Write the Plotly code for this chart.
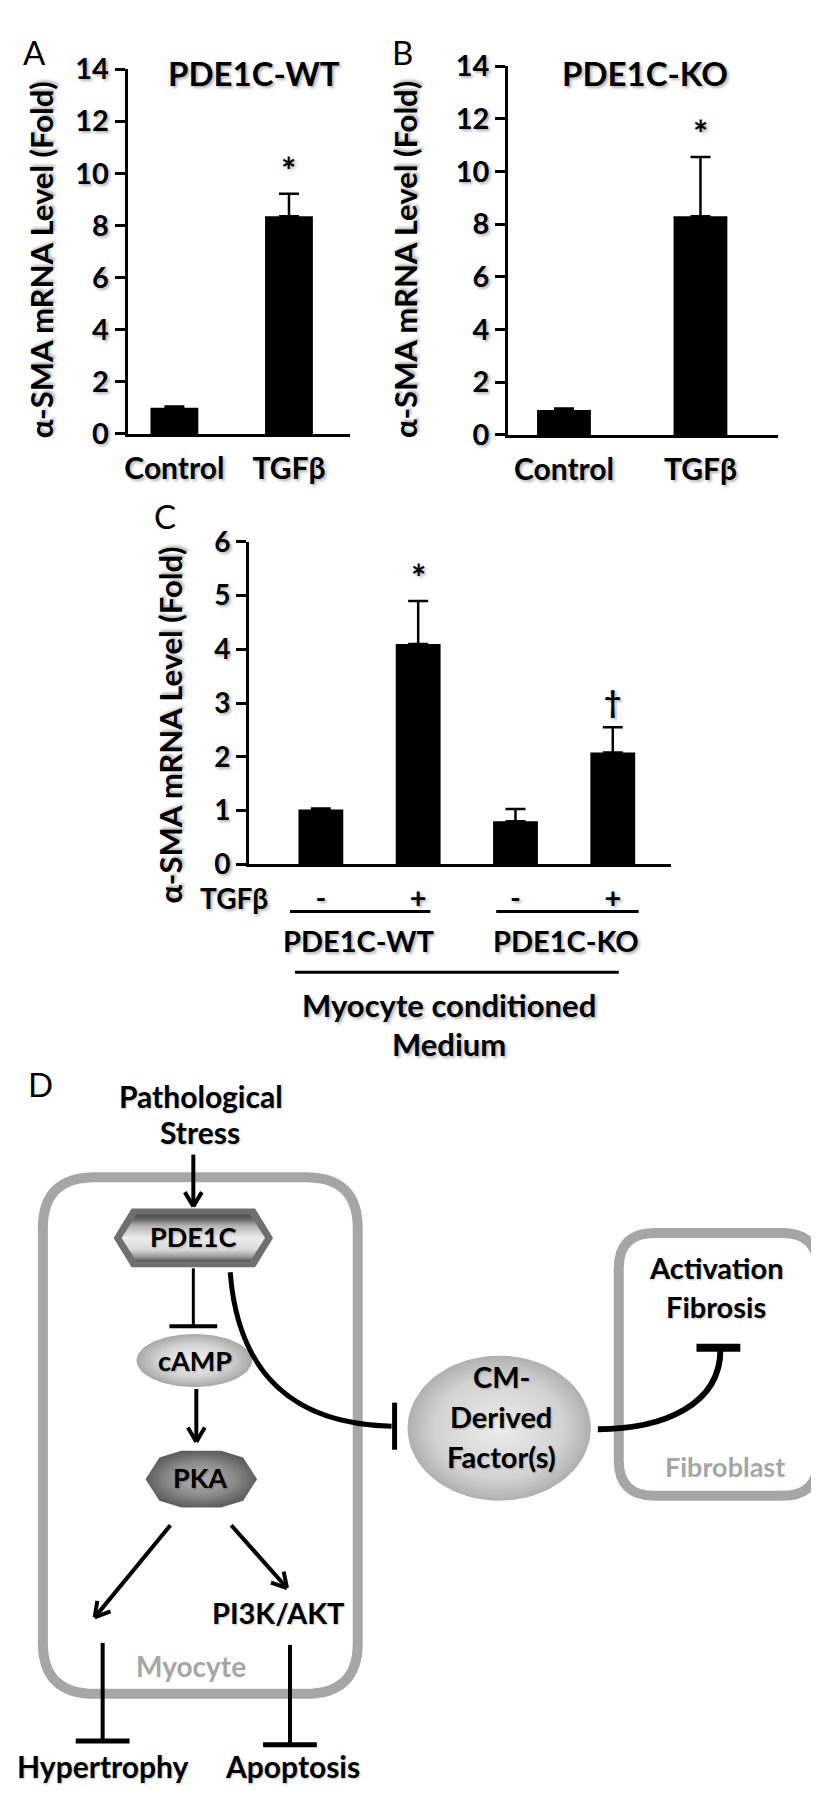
import numpy as np
import plotly.graph_objects as go

W, H = 819, 1796
FONT = "Lato"

# ---------------- data ----------------
a_categories = ["Control", "TGFβ"]
a_values = [1.0, 8.35]
a_errors = [0.05, 0.87]
a_marks = ["", "*"]

b_categories = ["Control", "TGFβ"]
b_values = [0.95, 8.3]
b_errors = [0.05, 2.25]
b_marks = ["", "*"]

c_tgfb = ["-", "+", "-", "+"]
c_values = [1.02, 4.1, 0.8, 2.08]
c_errors = [0.02, 0.8, 0.23, 0.47]
c_marks = ["", "*", "", "†"]

ab_yticks = [0, 2, 4, 6, 8, 10, 12, 14]
c_yticks = [0, 1, 2, 3, 4, 5, 6]
y_title = "α-SMA mRNA Level (Fold)"

# ---------------- layout helpers ----------------
SHADOW = "2px 2px 3px rgba(0,0,0,0.30)"


def fnt(size, color="black", weight="bold", shadow=SHADOW):
    return dict(family=FONT, size=size, color=color, weight=weight, shadow=shadow)


def cat_axis(px_left, px_right, c_first, c_last, n):
    upp = (n - 1) / (c_last - c_first)
    r0 = -(c_first - px_left) * upp
    r1 = r0 + (px_right - px_left) * upp
    return [r0, r1], upp


panels = [
    dict(name="A", cats=a_categories, vals=a_values, errs=a_errors, marks=a_marks,
         xl=117, xr=340, c0=164, c1=279, yt=43, yb=415, yr=[0, 14], yticks=ab_yticks, barpx=48),
    dict(name="B", cats=b_categories, vals=b_values, errs=b_errors, marks=b_marks,
         xl=499, xr=770, c0=555, c1=692, yt=40, yb=416, yr=[0, 14], yticks=ab_yticks, barpx=54),
    dict(name="C", cats=c_tgfb, vals=c_values, errs=c_errors, marks=c_marks,
         xl=239, xr=662, c0=311, c1=604, yt=525, yb=854, yr=[0, 6], yticks=c_yticks, barpx=45),
]

fig = go.Figure()
layout = dict(width=W, height=H, margin=dict(l=0, r=0, t=0, b=0, pad=0),
              paper_bgcolor="white", plot_bgcolor="rgba(0,0,0,0)", showlegend=False)
annotations = []
shapes = []

for k, p in enumerate(panels, start=1):
    n = len(p["cats"])
    xr, upp = cat_axis(p["xl"], p["xr"], p["c0"], p["c1"], n)
    idx = list(range(n))
    xa = "x" if k == 1 else f"x{k}"
    ya = "y" if k == 1 else f"y{k}"
    fig.add_trace(go.Bar(
        x=idx, y=p["vals"], width=p["barpx"] * upp, xaxis=xa, yaxis=ya,
        marker=dict(color="black", line=dict(width=0)),
        error_y=dict(type="data", array=p["errs"], arrayminus=[0] * n, symmetric=False,
                     color="black", thickness=2.5, width=10),
        hoverinfo="skip"))
    layout[f"xaxis{'' if k == 1 else k}"] = dict(
        domain=[p["xl"] / W, p["xr"] / W], range=xr, anchor=ya,
        showline=True, linewidth=3, linecolor="black", ticks="",
        tickmode="array", tickvals=idx, ticktext=p["cats"], tickfont=fnt(30 if k < 3 else 29),
        ticklabelstandoff=6, showgrid=False, zeroline=False, fixedrange=True)
    layout[f"yaxis{'' if k == 1 else k}"] = dict(
        domain=[1 - p["yb"] / H, 1 - p["yt"] / H], range=p["yr"], anchor=xa,
        showline=True, linewidth=3, linecolor="black", ticks="outside", ticklen=10,
        tickwidth=3, tickcolor="black", tickmode="array", tickvals=p["yticks"],
        tickfont=fnt(29 if k < 3 else 28), showgrid=False, zeroline=False, fixedrange=True)
    for i, m in enumerate(p["marks"]):
        if m:
            annotations.append(dict(x=i, y=p["vals"][i] + p["errs"][i], xref=xa, yref=ya,
                                    text=m, showarrow=False, yanchor="bottom",
                                    yshift=0 if m == "*" else 6,
                                    font=fnt(36 if m == "*" else 30)))

# overlay pixel axis for texts & diagram
layout["xaxis4"] = dict(domain=[0, 1], range=[0, W], visible=False, anchor="y4", fixedrange=True)
layout["yaxis4"] = dict(domain=[0, 1], range=[H, 0], visible=False, anchor="x4", fixedrange=True)


def txt(x, y, s, size=28, color="black", weight="bold", shadow=SHADOW, angle=0):
    annotations.append(dict(x=x, y=y, xref="x4", yref="y4", text=s, showarrow=False,
                            xanchor="center", yanchor="middle", textangle=angle,
                            font=fnt(size, color, weight, shadow)))


def seg(x0, y0, x1, y1, w=4, color="black"):
    shapes.append(dict(type="line", xref="x4", yref="y4", x0=x0, y0=y0, x1=x1, y1=y1,
                       line=dict(color=color, width=w), layer="above"))


def arrow(x0, y0, x1, y1, w=4, head=17, ang=np.radians(30)):
    seg(x0, y0, x1, y1, w)
    a = np.arctan2(y0 - y1, x0 - x1)
    for s in (-1, 1):
        seg(x1, y1, x1 + head * np.cos(a + s * ang), y1 + head * np.sin(a + s * ang), w)


def tbar(x0, y0, x1, y1, blen, w=4, bw=5):
    seg(x0, y0, x1, y1, w)
    a = np.arctan2(y1 - y0, x1 - x0) + np.pi / 2
    dx, dy = np.cos(a) * blen / 2, np.sin(a) * blen / 2
    seg(x1 - dx, y1 - dy, x1 + dx, y1 + dy, bw)


def rrect(x0, y0, x1, y1, r, w=10, color="#a6a6a6"):
    path = (f"M{x0 + r},{y0} L{x1 - r},{y0} Q{x1},{y0} {x1},{y0 + r} L{x1},{y1 - r} "
            f"Q{x1},{y1} {x1 - r},{y1} L{x0 + r},{y1} Q{x0},{y1} {x0},{y1 - r} "
            f"L{x0},{y0 + r} Q{x0},{y0} {x0 + r},{y0} Z")
    shapes.append(dict(type="path", xref="x4", yref="y4", path=path,
                       line=dict(color=color, width=w), layer="above"))


def blob(xs, ys, cscale, gtype="radial", lc="rgba(0,0,0,0)", lw=0):
    xs = list(xs) + [xs[0]]
    ys = list(ys) + [ys[0]]
    fig.add_trace(go.Scatter(x=xs, y=ys, xaxis="x4", yaxis="y4", mode="lines",
                             fill="toself", fillgradient=dict(type=gtype, colorscale=cscale),
                             line=dict(color=lc, width=lw), hoverinfo="skip"))


def ellipse(cx, cy, rx, ry, m=90):
    t = np.linspace(0, 2 * np.pi, m, endpoint=False)
    return cx + rx * np.cos(t), cy + ry * np.sin(t)


# panel letters and titles
txt(24, 25, "A", 33, weight="normal", shadow="none")
txt(393, 25, "B", 33, weight="normal", shadow="none")
txt(155, 499, "C", 33, weight="normal", shadow="none")
txt(30, 1078, "D", 33, weight="normal", shadow="none")
txt(244, 47, "PDE1C-WT", 33)
txt(636, 47, "PDE1C-KO", 33)
txt(30, 237, y_title, 31, angle=-90)
txt(396, 237, y_title, 31, angle=-90)
txt(160, 712, y_title, 31, angle=-90)

# panel C grouping labels
txt(224, 888, "TGFβ", 28)
seg(280, 902, 421, 902, 3)
seg(487, 902, 630, 902, 3)
txt(349, 932, "PDE1C-WT", 29)
txt(557, 932, "PDE1C-KO", 29)
seg(285, 964, 610, 964, 3)
txt(440, 997, "Myocyte conditioned", 31)
txt(440, 1037, "Medium", 31)

# ---------------- diagram D ----------------
DSH = "1px 1px 2px rgba(0,0,0,0.25)"
rrect(32, 1173, 348, 1700, 52)
rrect(610, 1230, 810, 1498, 36)

txt(191, 1090, "Pathological", 30, shadow=DSH)
txt(190, 1127, "Stress", 30, shadow=DSH)
arrow(183, 1150, 183, 1203, 4)

# PDE1C hexagon
hx = [103, 121, 245, 263, 245, 121]
hy = [1235, 1205, 1205, 1235, 1265, 1265]
blob(hx, hy, [[0, "#6f6f6f"], [1, "#6f6f6f"]], "vertical")
hx2 = [111, 126, 240, 255, 240, 126]
hy2 = [1235, 1211, 1211, 1235, 1259, 1259]
blob(hx2, hy2, [[0, "#555555"], [0.1, "#9a9a9a"], [0.25, "#d9d9d9"], [0.5, "#ececec"],
                [0.75, "#b5b5b5"], [0.9, "#666666"], [1, "#4a4a4a"]], "vertical")
txt(183, 1234, "PDE1C", 27, shadow=DSH)

# cAMP
ex, ey = ellipse(184, 1360, 58, 27)
blob(ex, ey, [[0, "#f2f2f2"], [0.6, "#d4d4d4"], [1, "#a8a8a8"]])
txt(185, 1360, "cAMP", 27, shadow=DSH)

# PKA octagon
ox = [135, 149, 171, 211, 233, 247, 233, 211, 171, 149]
oy = [1481, 1459, 1452, 1452, 1459, 1481, 1503, 1510, 1510, 1503]
blob(ox, oy, [[0, "#b4b4b4"], [0.6, "#8a8a8a"], [1, "#5e5e5e"]])
txt(190, 1479, "PKA", 27, shadow=DSH)

# CM-derived factor circle
cx, cy = ellipse(490, 1429, 92, 74)
blob(cx, cy, [[0, "#ececec"], [0.7, "#d2d2d2"], [1, "#b0b0b0"]])
txt(492, 1376, "CM-", 29, shadow=DSH)
txt(492, 1417, "Derived", 29, shadow=DSH)
txt(492, 1458, "Factor(s)", 29, shadow=DSH)

# pathway lines
tbar(183, 1266, 183, 1325, 48, 3, 4)
arrow(186, 1389, 186, 1443, 4)
arrow(160, 1528, 84, 1622, 4)
arrow(221, 1528, 277, 1592, 4)
txt(268, 1617, "PI3K/AKT", 29, shadow=DSH)
tbar(92, 1648, 92, 1748, 54, 4, 5)
tbar(280, 1650, 280, 1752, 54, 4, 5)
txt(181, 1672, "Myocyte", 28, color="#a6a6a6", shadow="none")
txt(92, 1774, "Hypertrophy", 30, shadow=DSH)
txt(283, 1774, "Apoptosis", 30, shadow=DSH)

# PDE1C -> CM curve with inhibition bar
shapes.append(dict(type="path", xref="x4", yref="y4",
                   path="M220,1270 C228,1375 285,1425 382,1427",
                   line=dict(color="black", width=5), layer="above"))
seg(385, 1403, 385, 1451, 5)

# CM -> fibroblast curve with inhibition bar
shapes.append(dict(type="path", xref="x4", yref="y4",
                   path="M589,1430 C655,1430 712,1405 712,1349",
                   line=dict(color="black", width=6), layer="above"))
seg(688, 1347, 732, 1347, 8)

txt(708, 1265, "Activation", 29, shadow=DSH)
txt(708, 1305, "Fibrosis", 29, shadow=DSH)
txt(717, 1468, "Fibroblast", 27, color="#a6a6a6", shadow="none")

layout["annotations"] = annotations
layout["shapes"] = shapes
fig.update_layout(**layout)
fig.write_html("out.html")
